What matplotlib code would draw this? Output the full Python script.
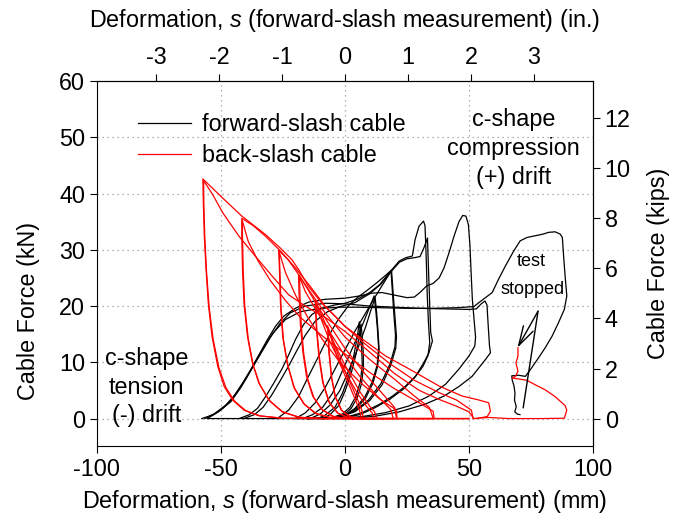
import matplotlib
matplotlib.use("Agg")
import matplotlib.pyplot as plt
from matplotlib.lines import Line2D

plt.rcParams['font.family'] = ['Liberation Sans', 'DejaVu Sans']
plt.rcParams['mathtext.fontset'] = 'custom'
plt.rcParams['mathtext.rm'] = 'Liberation Sans'
plt.rcParams['mathtext.it'] = 'Liberation Sans:italic'
plt.rcParams['axes.unicode_minus'] = False

# ---------------- forward-slash cable (black), deformation mm / force kN ----------------
fs_a_x = [-57.7, -53.3, -49.3, -45.3, -41.3, -38.0, -34.7, -31.3, -28.0, -24.7, -20.0, -14.7, -8.0, 0.0,
          6.0, 11.0, 15.0, 20.5, 25.0, 28.0, 30.5, 33.0, 35.5, 38.0, 40.0, 42.0, 44.0, 46.0, 47.5, 48.8,
          49.8, 50.4, 50.9, 51.4, 52.2, 52.7, 52.4, 50.0, 46.0, 40.6, 33.9, 25.9, 16.5, 7.1, 0.0, -10.0, -30.0, -55.0]
fs_a_y = [0, 0.65, 1.8, 3.6, 6.3, 8.7, 11.3, 14.0, 16.4, 18.2, 19.6, 20.7, 21.2, 21.4,
          21.8, 22.3, 22.4, 21.9, 21.5, 21.6, 22.5, 23.6, 24.0, 25.0, 26.8, 29.5, 32.4, 35.0, 36.1, 36.0,
          34.5, 31.0, 26.0, 21.2, 17.0, 14.5, 12.9, 11.1, 8.8, 6.1, 4.0, 2.25, 1.07, 0.36, 0.1, 0, 0, 0]

fs_b_x = [-55.5, -51.0, -46.0, -42.0, -38.0, -34.0, -30.0, -26.0, -22.0, -16.0, -8.0, 0.0, 10.0, 20.0,
          30.0, 40.0, 50.0, 53.0, 55.0, 56.5, 57.3, 57.8, 58.3, 58.7, 56.7, 51.3, 46.0, 40.0, 32.0, 22.0,
          12.0, 0.0, -20.0]
fs_b_y = [0, 1.2, 3.0, 5.5, 8.5, 11.5, 14.5, 17.0, 18.8, 20.0, 20.5, 20.4, 20.0, 19.8,
          19.6, 19.5, 19.4, 19.5, 20.4, 20.9, 20.2, 16.5, 13.0, 11.7, 10.5, 7.5, 5.7, 4.0, 2.5, 1.2,
          0.4, 0.0, 0.0]

fs_final_x = [-56.5, -52.5, -48.0, -44.0, -40.0, -36.5, -33.0, -29.0, -24.0, -18.0, -10.0, -2.0, 5.0, 15.0,
              25.0, 35.0, 45.0, 52.0, 54.0, 57.0, 59.4, 62.0, 64.7, 68.1, 70.7, 73.5, 76.8, 80.0, 82.1,
              84.8, 86.8, 87.7, 88.2, 88.8, 89.5, 88.5, 86.1, 83.5, 80.8, 78.1, 74.8, 72.8, 70.0, 67.3,
              67.5, 68.2, 68.6, 68.4, 69.1, 68.5, 69.5, 70.6]
fs_final_y = [0, 0.9, 2.4, 4.4, 7.0, 9.8, 12.5, 15.2, 17.6, 19.0, 19.6, 19.8, 19.8, 19.7,
              19.6, 19.6, 19.7, 19.9, 20.6, 21.6, 22.4, 24.8, 27.1, 29.8, 31.6, 32.2, 32.5, 32.8, 33.1,
              33.2, 32.8, 32.2, 28.9, 25.4, 21.8, 19.4, 17.0, 14.6, 12.6, 10.8, 8.7, 7.5, 7.7, 7.6,
              6.8, 5.8, 4.5, 3.3, 2.1, 1.2, 0.8, 0.7]

fs_c_x = [-42.7, -38.7, -35.3, -32.0, -28.7, -25.3, -22.7, -20.0, -16.7, -13.3, -9.3, -4.0, 0.0, 5.0,
          10.0, 14.0, 18.8, 21.9, 24.6, 27.2, 28.3, 29.9, 31.7, 32.3, 32.6, 32.9, 33.2, 33.7, 34.2, 33.5,
          31.5, 28.0, 23.5, 18.0, 12.0, 6.0, 0.0, -15.0]
fs_c_y = [0, 0.65, 1.8, 3.9, 6.3, 8.9, 11.3, 14.0, 16.7, 18.5, 19.6, 20.2, 20.5, 21.2,
          22.4, 23.8, 26.4, 28.0, 28.6, 28.9, 31.8, 34.2, 35.1, 34.3, 31.0, 27.0, 22.0, 17.0, 13.5, 11.2,
          9.3, 7.2, 5.2, 3.4, 1.9, 0.7, 0.15, 0.0]

fs_e_x = [-40.8, -36.5, -33.0, -29.5, -26.0, -22.5, -19.5, -16.0, -12.0, -7.0, -2.0, 4.0, 10.0, 14.5,
          18.8, 22.0, 25.0, 28.0, 30.3, 32.0, 33.3, 33.6, 33.9, 34.3, 34.6, 35.3, 33.9, 31.9, 28.6,
          24.5, 19.2, 13.8, 7.1, 0.0, -15.0]
fs_e_y = [0, 0.7, 2.0, 4.2, 6.8, 9.5, 12.0, 14.8, 17.3, 19.0, 19.9, 20.6, 22.2, 23.9,
          26.2, 27.8, 28.4, 28.6, 28.8, 30.5, 32.1, 28.0, 24.2, 19.0, 15.3, 13.8, 11.7, 10.0, 7.6,
          5.8, 4.0, 2.5, 1.07, 0.2, 0.0]

fs_f_x = [-27.3, -22.7, -18.7, -14.7, -10.7, -6.7, -2.7, 1.3, 5.0, 9.0, 13.0, 16.0, 18.8,
          19.5, 20.2, 20.8, 20.5, 18.5, 15.0, 10.0, 4.0, -3.0, -15.0]
fs_f_y = [0, 1.5, 3.9, 7.5, 11.0, 14.6, 17.6, 20.0, 21.5, 22.8, 24.2, 25.3, 26.4,
          22.0, 18.0, 14.5, 12.5, 9.5, 6.0, 3.2, 1.2, 0.2, 0.0]

fs_g_x = [-20.0, -16.0, -12.0, -8.0, -4.0, 0.0, 4.0, 8.0, 12.0, 15.5, 18.6,
          19.2, 19.8, 20.4, 20.2, 18.2, 14.5, 9.5, 3.5, -3.5, -15.0]
fs_g_y = [0, 1.0, 2.8, 5.5, 8.8, 12.2, 15.5, 18.5, 21.5, 24.0, 26.2,
          22.2, 18.2, 14.8, 12.8, 9.7, 6.2, 3.3, 1.2, 0.2, 0.0]

fs_h_x = [-17.0, -13.0, -9.0, -5.0, -1.0, 3.0, 6.5, 9.5, 11.8, 12.5, 13.1, 13.6, 13.0, 11.0, 8.0, 4.0, 0.0, -8.0]
fs_h_y = [0, 0.7, 2.0, 4.5, 8.5, 12.5, 16.0, 19.3, 21.8, 19.0, 16.0, 12.5, 9.5, 6.5, 3.8, 1.8, 0.6, 0.0]

fs_i_x = [-14.0, -10.0, -6.0, -2.0, 2.0, 5.5, 8.5, 10.5, 12.2, 12.8, 13.3, 13.8, 13.2, 11.3, 8.3, 4.3, 0.3, -8.0]
fs_i_y = [0, 0.8, 2.4, 5.0, 9.0, 12.8, 16.5, 19.3, 21.5, 18.8, 15.8, 12.3, 9.3, 6.3, 3.6, 1.7, 0.5, 0.0]

fs_j_x = [-11.0, -8.0, -4.0, -1.0, 1.5, 3.5, 5.0, 5.8, 6.3, 6.8, 7.0, 6.2, 4.5, 2.0, -1.0, -5.0, -10.0]
fs_j_y = [0, 0.6, 2.0, 4.5, 7.5, 11.0, 14.5, 17.2, 15.0, 12.0, 9.5, 6.5, 4.0, 2.0, 0.8, 0.2, 0.0]

fs_k_x = [-9.0, -6.0, -2.5, 0.0, 2.5, 4.5, 5.8, 6.5, 7.0, 7.4, 7.5, 6.7, 5.0, 2.5, -0.5, -4.5, -9.0]
fs_k_y = [0, 0.7, 2.3, 4.8, 8.0, 11.5, 14.5, 16.8, 14.5, 11.7, 9.2, 6.2, 3.7, 1.8, 0.6, 0.1, 0.0]

# ---------------- back-slash cable (red) ----------------
bs_1a_x = [53.0, 57.4, 58.7, 58.0, 54.0, 47.3, 37.9, 27.2, 16.5, 7.1, 0.0, -4.0, -9.3, -14.7, -18.7, -21.3,
           -26.0, -32.0, -41.6, -49.3, -57.3, -57.1, -56.7, -56.0, -55.1, -53.6, -51.3, -48.7, -45.3,
           -40.7, -34.7, -25.3, -10.0, 10.0, 30.0, 50.0]
bs_1a_y = [0, 0.36, 1.3, 2.8, 3.3, 4.0, 5.8, 8.5, 11.1, 14.1, 16.4, 18.2, 20.5, 23.5, 26.5, 28.2,
           30.3, 32.7, 36.0, 39.2, 42.6, 38.3, 32.4, 26.5, 20.5, 14.6, 9.3, 5.7, 3.3,
           1.5, 0.5, 0.06, 0, 0, 0, 0]

bs_1b_x = [52.0, 50.0, 45.0, 38.0, 30.0, 20.0, 10.0, 0.0, -8.0, -16.0, -22.7, -29.3, -36.0, -42.7, -49.3,
           -53.3, -57.0, -56.9, -56.5, -55.8, -54.8, -53.2, -50.8, -48.0, -44.5, -40.0, -34.0, -25.0,
           -10.0, 10.0, 30.0, 50.0]
bs_1b_y = [0, 1.2, 2.2, 3.4, 5.0, 8.0, 11.8, 15.5, 18.0, 20.0, 22.0, 25.3, 28.8, 32.4, 36.6,
           39.8, 42.3, 38.0, 32.0, 26.0, 20.0, 14.2, 9.0, 5.5, 3.1, 1.4, 0.45, 0.05,
           0, 0, 0, 0]

bs_2a_x = [51.7, 51.0, 45.0, 38.0, 28.0, 18.0, 8.0, 0.0, -8.0, -14.0, -20.0, -26.0, -32.0, -37.0, -41.6,
           -41.6, -41.3, -40.7, -39.3, -37.3, -34.7, -30.7, -25.3, -18.7, -9.3, 10.0, 30.0, 50.0]
bs_2a_y = [0, 1.5, 3.3, 4.6, 6.8, 9.8, 13.3, 16.4, 20.0, 23.5, 26.8, 29.8, 32.4, 34.3, 35.6,
           32.4, 26.5, 20.5, 14.6, 9.9, 6.3, 3.3, 1.25, 0.24, 0, 0, 0, 0]

bs_2b_x = [36.0, 35.6, 30.0, 20.0, 10.0, 0.0, -10.0, -18.0, -24.0, -30.0, -35.0, -39.0, -41.4,
           -41.3, -41.0, -40.4, -39.0, -37.0, -34.3, -30.3, -25.0, -18.0, -9.0, 10.0, 35.0]
bs_2b_y = [0, 1.3, 2.8, 5.3, 8.2, 11.5, 15.0, 18.0, 21.0, 24.5, 28.0, 31.5, 35.2,
           32.0, 26.0, 20.0, 14.2, 9.5, 6.0, 3.1, 1.1, 0.2, 0, 0, 0]

bs_3a_x = [35.6, 35.0, 34.0, 28.0, 20.0, 10.0, 0.0, -8.0, -14.0, -19.0, -23.0, -26.7,
           -26.4, -26.0, -25.1, -23.3, -20.7, -16.7, -12.0, -5.3, 5.0, 20.0, 35.0]
bs_3a_y = [0, 0.8, 2.0, 4.0, 7.0, 10.5, 14.5, 18.8, 22.5, 25.8, 28.3, 29.9,
           26.5, 20.5, 14.6, 9.9, 5.7, 2.7, 0.95, 0.1, 0, 0, 0]

bs_3b_x = [21.0, 20.8, 14.0, 6.0, -2.0, -9.0, -15.0, -20.0, -24.0, -26.5,
           -26.2, -25.8, -24.8, -23.0, -20.3, -16.3, -11.5, -5.0, 5.0, 20.0]
bs_3b_y = [0, 1.5, 3.5, 6.5, 10.0, 14.0, 18.0, 22.0, 26.0, 29.6,
           26.0, 20.0, 14.0, 9.4, 5.3, 2.5, 0.85, 0.1, 0, 0]

bs_4a_x = [20.8, 20.0, 15.0, 8.0, 0.0, -6.0, -11.0, -15.0, -18.7,
           -18.5, -18.0, -17.0, -15.5, -13.0, -9.5, -5.0, 0.0, 10.0, 20.0]
bs_4a_y = [0, 2.0, 4.5, 8.0, 12.5, 16.5, 20.0, 23.0, 25.6,
           22.0, 17.0, 12.0, 7.5, 4.0, 1.7, 0.4, 0, 0, 0]

bs_4b_x = [19.5, 18.5, 13.0, 6.0, -1.0, -7.0, -12.0, -16.0, -18.3,
           -18.1, -17.6, -16.6, -15.0, -12.5, -9.0, -4.5, 1.0, 10.0, 19.5]
bs_4b_y = [0, 1.6, 4.0, 7.5, 11.8, 16.0, 19.6, 22.6, 25.2,
           21.5, 16.5, 11.5, 7.0, 3.7, 1.5, 0.35, 0, 0, 0]

bs_5a_x = [12.8, 12.0, 10.0, 6.0, 0.0, -5.0, -9.0, -12.0, -11.5, -10.5, -9.0, -6.5, -3.0, 2.0, 12.8]
bs_5a_y = [0, 1.2, 2.2, 4.8, 9.5, 14.0, 18.0, 21.0, 16.0, 11.0, 6.5, 3.0, 1.0, 0, 0]

bs_5b_x = [11.5, 11.0, 9.0, 5.0, -1.0, -6.0, -9.5, -11.8, -11.3, -10.2, -8.7, -6.2, -2.7, 2.5, 11.5]
bs_5b_y = [0, 1.0, 2.0, 4.5, 9.2, 13.6, 17.6, 20.6, 15.6, 10.6, 6.2, 2.8, 0.9, 0, 0]

bs_6a_x = [7.4, 7.0, 6.0, 2.0, -2.0, -5.0, -7.0, -6.5, -5.5, -4.0, -1.5, 2.0, 7.4]
bs_6a_y = [0, 1.2, 2.5, 6.5, 10.5, 14.0, 16.5, 12.0, 7.5, 4.0, 1.5, 0.3, 0]

bs_6b_x = [6.5, 6.2, 5.2, 1.5, -2.5, -5.2, -6.8, -6.3, -5.3, -3.8, -1.2, 2.3, 6.5]
bs_6b_y = [0, 1.0, 2.3, 6.2, 10.2, 13.7, 16.2, 11.7, 7.2, 3.8, 1.4, 0.3, 0]

bs_final_x = [52.0, 58.0, 66.0, 79.5, 88.5, 89.5, 88.8, 84.8, 80.8, 76.8, 73.4, 70.7, 67.4, 68.8,
              69.8, 69.0, 69.8, 69.8]
bs_final_y = [0, 0.2, 0, 0, 0.06, 1.5, 2.3, 3.9, 5.1, 6.0, 6.8, 7.0, 7.2, 7.5,
              8.4, 9.9, 11.1, 12.6]

forward_paths = [(fs_a_x, fs_a_y), (fs_b_x, fs_b_y), (fs_final_x, fs_final_y), (fs_c_x, fs_c_y),
                 (fs_e_x, fs_e_y), (fs_f_x, fs_f_y), (fs_g_x, fs_g_y), (fs_h_x, fs_h_y),
                 (fs_i_x, fs_i_y), (fs_j_x, fs_j_y), (fs_k_x, fs_k_y)]
back_paths = [(bs_1a_x, bs_1a_y), (bs_1b_x, bs_1b_y), (bs_2a_x, bs_2a_y), (bs_2b_x, bs_2b_y),
              (bs_3a_x, bs_3a_y), (bs_3b_x, bs_3b_y), (bs_4a_x, bs_4a_y), (bs_4b_x, bs_4b_y),
              (bs_5a_x, bs_5a_y), (bs_5b_x, bs_5b_y), (bs_6a_x, bs_6a_y), (bs_6b_x, bs_6b_y),
              (bs_final_x, bs_final_y)]

x_ticks_mm = [-100, -50, 0, 50, 100]
y_ticks_kn = [0, 10, 20, 30, 40, 50, 60]
x_ticks_in = [-3, -2, -1, 0, 1, 2, 3]
y_ticks_kip = [0, 2, 4, 6, 8, 10, 12]
MM_PER_IN = 25.4
KN_PER_KIP = 4.448

FS = 16.8

fig = plt.figure(figsize=(6.83, 5.23), dpi=100)
ax = fig.add_axes([0.142, 0.147, 0.726, 0.698])

for gx in [-50, 0, 50]:
    ax.axvline(gx, color='#999999', lw=0.9, ls=(0, (1, 3)), zorder=0)
for gy in [0, 10, 20, 30, 40, 50]:
    ax.axhline(gy, color='#999999', lw=0.9, ls=(0, (1, 3)), zorder=0)

for px, py in forward_paths:
    ax.plot(px, py, color='black', lw=0.9, solid_joinstyle='round', zorder=2)
for px, py in back_paths:
    ax.plot(px, py, color='#ff0000', lw=0.9, solid_joinstyle='round', zorder=3)

ax.set_xlim(-100, 100)
ax.set_ylim(-4.9, 60)
ax.set_xticks(x_ticks_mm)
ax.set_yticks(y_ticks_kn)
ax.tick_params(direction='out', length=5, width=0.8, labelsize=FS)
ax.set_xlabel(r'Deformation, $s$ (forward-slash measurement) (mm)', fontsize=FS, labelpad=5)
ax.set_ylabel('Cable Force (kN)', fontsize=FS)
ax.yaxis.set_label_coords(-0.115, 0.37)

top = ax.secondary_xaxis('top', functions=(lambda v: v / MM_PER_IN, lambda v: v * MM_PER_IN))
top.set_xticks(x_ticks_in)
top.tick_params(direction='out', length=5, width=0.8, labelsize=FS)
top.set_xlabel(r'Deformation, $s$ (forward-slash measurement) (in.)', fontsize=FS, labelpad=14)

right = ax.secondary_yaxis('right', functions=(lambda v: v / KN_PER_KIP, lambda v: v * KN_PER_KIP))
right.set_yticks(y_ticks_kip)
right.tick_params(direction='out', length=5, width=0.8, labelsize=FS)
right.set_ylabel('Cable Force (kips)', fontsize=FS, labelpad=12)

legend_handles = [Line2D([], [], color='black', lw=0.9), Line2D([], [], color='#ff0000', lw=0.9)]
ax.legend(legend_handles, ['forward-slash cable', 'back-slash cable'], loc='upper left',
          bbox_to_anchor=(0.083, 0.912), frameon=False, fontsize=FS, borderpad=0, borderaxespad=0,
          handlelength=2.25, handletextpad=0.5, labelspacing=0.33)

ax.text(67.9, 48.0, 'c-shape\ncompression\n(+) drift', ha='center', va='center', fontsize=FS,
        linespacing=1.33)
ax.text(-80.0, 5.6, 'c-shape\ntension\n(-) drift', ha='center', va='center', fontsize=FS,
        linespacing=1.33)

ax.text(75.1, 27.9, 'test', ha='center', va='center', fontsize=13)
ax.text(75.5, 22.9, 'stopped', ha='center', va='center', fontsize=13)
ax.annotate('', xy=(69.6, 12.6), xytext=(77.9, 19.1),
            arrowprops=dict(arrowstyle='->,head_length=1.4,head_width=0.4', lw=1.0, color='black',
                            shrinkA=0, shrinkB=0))
ax.annotate('', xy=(71.9, 1.9), xytext=(77.9, 19.1),
            arrowprops=dict(arrowstyle='-', lw=1.0, color='black', shrinkA=0, shrinkB=0))

fig.savefig('out.png', dpi=100)
